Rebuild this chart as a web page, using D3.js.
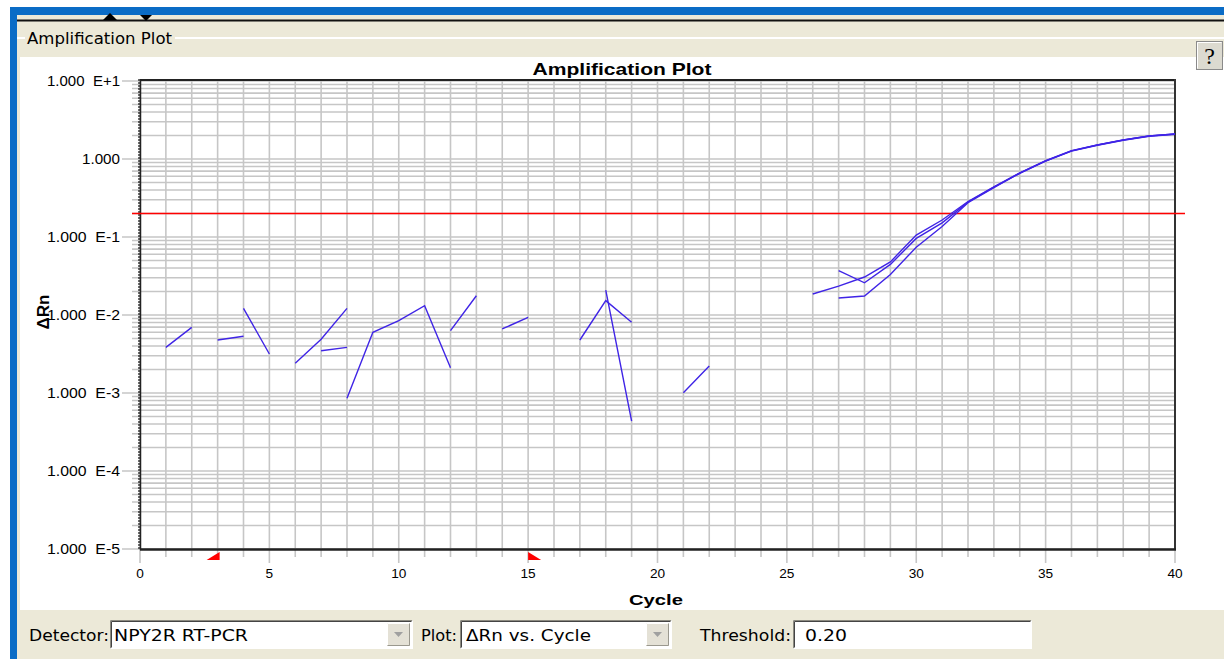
<!DOCTYPE html>
<html>
<head>
<meta charset="utf-8">
<script src="https://cdn.jsdelivr.net/npm/d3@7/dist/d3.min.js"></script>
<style>
html,body{margin:0;padding:0;background:#fff;overflow:hidden;}
svg{display:block;}
text{font-family:"Liberation Sans",Arial,sans-serif;fill:#000;}
.ui{font-family:"DejaVu Sans",Tahoma,sans-serif;}
</style>
</head>
<body>
<svg id="chart" width="1224" height="659"></svg>
<script>
// ---------------- data ----------------
const cycles = d3.range(1, 41); // 1..40
const wellA = [0.00385, 0.00695, null, 0.01217, 0.00316, null, 0.00348, 0.00385, null, null,
               null, 0.0063, 0.01767, null, null, null, 0.00478, 0.01527, 0.00806, null,
               0.00101, 0.00222, null, null, null, 0.0186, 0.0235, 0.0307, 0.048, 0.106,
               0.165, 0.285, 0.44, 0.665, 0.945, 1.27, 1.51, 1.75, 1.97, 2.09];
const wellB = [null, null, 0.00478, 0.00533, null, 0.0024, 0.00488, 0.01217, null, null,
               null, null, null, 0.00662, 0.00934, null, null, 0.0209, 0.000437, null,
               null, null, null, null, null, null, 0.037, 0.0259, 0.0445, 0.096,
               0.152, 0.28, 0.435, 0.655, 0.94, 1.26, 1.50, 1.74, 1.96, 2.08];
const wellC = [null, null, null, null, null, null, null, 0.000855, 0.006, 0.00845,
               0.01316, 0.00211, null, null, null, null, null, null, null, null,
               null, null, null, null, null, null, 0.0165, 0.0175, 0.033, 0.074,
               0.136, 0.275, 0.43, 0.66, 0.95, 1.28, 1.52, 1.76, 1.98, 2.10];
const threshold = 0.20;
const baselineStart = 3, baselineEnd = 15;
const xTickValues = [0, 5, 10, 15, 20, 25, 30, 35, 40];
const yTickValues = [1e-5, 1e-4, 1e-3, 1e-2, 1e-1, 1, 10];
const yTickLabels = ["1.000\u00a0\u00a0E-5", "1.000\u00a0\u00a0E-4", "1.000\u00a0\u00a0E-3",
                     "1.000\u00a0\u00a0E-2", "1.000\u00a0\u00a0E-1", "1.000", "1.000\u00a0\u00a0E+1"];

// ---------------- setup ----------------
const W = 1224, H = 659;
const svg = d3.select("#chart");
function fit(sel, w) { sel.attr("textLength", w).attr("lengthAdjust", "spacingAndGlyphs"); return sel; }

// window chrome
svg.append("rect").attr("width", W).attr("height", H).attr("fill", "#fff");
svg.append("rect").attr("x", 10).attr("y", 7).attr("width", W - 10).attr("height", H - 7).attr("fill", "#0a6cc6");
svg.append("rect").attr("x", 17).attr("y", 15).attr("width", W - 17).attr("height", H - 15).attr("fill", "#ece9d8");
svg.append("rect").attr("x", 17).attr("y", 19.5).attr("width", W - 17).attr("height", 2).attr("fill", "#111");
svg.append("path").attr("d", "M103,20 L117,20 L110,13 Z").attr("fill", "#000");
svg.append("path").attr("d", "M140,15 L152,15 L146,21 Z").attr("fill", "#000");
// group box etched line
svg.append("rect").attr("x", 17).attr("y", 37).attr("width", W - 17).attr("height", 2).attr("fill", "#fff");
svg.append("rect").attr("x", 25).attr("y", 30).attr("width", 150).attr("height", 14).attr("fill", "#ece9d8");
fit(svg.append("text").attr("class", "ui").attr("x", 27).attr("y", 44).attr("font-size", 15)
   .text("Amplification Plot"), 145);
// white plot panel
svg.append("rect").attr("x", 20).attr("y", 57).attr("width", W - 20).attr("height", 553).attr("fill", "#fff");
// help button
svg.append("rect").attr("x", 1196.5).attr("y", 41.5).attr("width", 26).attr("height", 28)
   .attr("fill", "#dcdad0").attr("stroke", "#8a8a8a");
svg.append("path").attr("d", "M1197.5,68.5 V42.5 H1221.5").attr("fill", "none").attr("stroke", "#fff");
svg.append("text").attr("x", 1209.5).attr("y", 64).attr("text-anchor", "middle")
   .attr("font-size", 24).style("font-family", "'Liberation Serif','DejaVu Serif',serif").attr("fill", "#444").text("?");

// ---------------- scales ----------------
const x = d3.scaleLinear().domain([0, 40]).range([140, 1175]);
const y = d3.scaleLog().domain([1e-5, 10]).range([549, 81]);

// grid (vertical) with ticks below axis
const g = svg.append("g");
g.selectAll("line.vg").data(x.ticks(40)).join("line")
  .attr("x1", d => x(d)).attr("x2", d => x(d))
  .attr("y1", y(10)).attr("y2", d => y(1e-5) + (d % 5 === 0 ? 14 : 8))
  .attr("stroke", "#c6c6c6").attr("stroke-width", 1.6);
// grid (horizontal) with ticks left of axis
g.selectAll("line.hg").data(y.ticks()).join("line")
  .attr("y1", d => y(d)).attr("y2", d => y(d))
  .attr("x1", d => x(0) - (Math.abs(Math.log10(d) - Math.round(Math.log10(d))) < 1e-9 ? 18 : 8))
  .attr("x2", x(40))
  .attr("stroke", "#c6c6c6").attr("stroke-width", 1.6);

// frame
svg.append("line").attr("x1", x(0)).attr("x2", x(40) + 1).attr("y1", y(10) - 1).attr("y2", y(10) - 1)
  .attr("stroke", "#222").attr("stroke-width", 2);
svg.append("line").attr("x1", x(40)).attr("x2", x(40)).attr("y1", y(10) - 2).attr("y2", y(1e-5))
  .attr("stroke", "#333").attr("stroke-width", 2);
svg.append("line").attr("x1", x(0)).attr("x2", x(40) + 1).attr("y1", y(1e-5) + 0.5).attr("y2", y(1e-5) + 0.5)
  .attr("stroke", "#222").attr("stroke-width", 2.5);
svg.append("line").attr("x1", x(0) + 0.5).attr("x2", x(0) + 0.5).attr("y1", y(10) - 2).attr("y2", y(1e-5) + 1)
  .attr("stroke", "#222").attr("stroke-width", 1.5);
svg.append("line").attr("x1", x(0) - 1).attr("x2", x(0) - 1).attr("y1", y(10) - 2).attr("y2", y(1e-5) + 1)
  .attr("stroke", "#111").attr("stroke-width", 1.2).attr("stroke-dasharray", "2,1");

// y labels
svg.selectAll("text.yl").data(yTickValues).join("text")
  .attr("x", 120).attr("y", d => y(d) + 5).attr("text-anchor", "end").attr("font-size", 14)
  .text((d, i) => yTickLabels[i])
  .each(function (d, i) { fit(d3.select(this), i === 5 ? 38 : 73); });

// x labels
svg.selectAll("text.xl").data(xTickValues).join("text")
  .attr("x", d => x(d)).attr("y", 578).attr("text-anchor", "middle").attr("font-size", 12)
  .text(d => d)
  .each(function (d) { fit(d3.select(this), String(d).length * 7.6); });

// titles
fit(svg.append("text").attr("x", 622).attr("y", 75).attr("text-anchor", "middle")
   .attr("font-size", 17).attr("font-weight", "bold").text("Amplification Plot"), 179);
fit(svg.append("text").attr("x", 656).attr("y", 605).attr("text-anchor", "middle")
   .attr("font-size", 15).attr("font-weight", "bold").text("Cycle"), 54);
fit(svg.append("text").attr("transform", "translate(49,312) rotate(-90)").attr("text-anchor", "middle")
   .attr("font-size", 16).attr("font-weight", "bold").text("ΔRn"), 35);

// threshold
svg.append("line").attr("x1", 132).attr("x2", 1185).attr("y1", y(threshold)).attr("y2", y(threshold))
  .attr("stroke", "#ff0000").attr("stroke-width", 1.6);

// baseline markers
const by = y(1e-5);
svg.append("path").attr("fill", "#ff0000")
  .attr("d", `M${x(baselineStart) - 11},${by + 11} L${x(baselineStart) + 2},${by + 11} L${x(baselineStart) + 2},${by + 3} Z`);
svg.append("path").attr("fill", "#ff0000")
  .attr("d", `M${x(baselineEnd)},${by + 3} L${x(baselineEnd)},${by + 11} L${x(baselineEnd) + 13},${by + 11} Z`);

// data lines
const line = d3.line().defined(d => d.v != null).x(d => x(d.c)).y(d => y(d.v));
[wellA, wellB, wellC].forEach(arr => {
  const pts = cycles.map((c, i) => ({ c, v: arr[i] }));
  svg.append("path").datum(pts).attr("d", line).attr("fill", "none")
    .attr("stroke", "#3f24e6").attr("stroke-width", 1.4);
});

// ---------------- bottom controls ----------------
function combo(x0, x1, label, btn) {
  svg.append("rect").attr("x", x0).attr("y", 620).attr("width", x1 - x0).attr("height", 29).attr("fill", "#fff");
  svg.append("path").attr("d", `M${x0 + 0.5},648.5 V620.5 H${x1 - 0.5}`).attr("fill", "none").attr("stroke", "#8c8a80");
  svg.append("path").attr("d", `M${x0 + 1.5},647.5 V621.5 H${x1 - 1.5}`).attr("fill", "none").attr("stroke", "#444");
  svg.append("path").attr("d", `M${x0 + 0.5},648.5 H${x1 - 0.5} V620.5`).attr("fill", "none").attr("stroke", "#fff");
  if (btn) {
    const bx = x1 - 26;
    svg.append("rect").attr("x", bx).attr("y", 623).attr("width", 23).attr("height", 23).attr("fill", "#e4e1d6");
    svg.append("path").attr("d", `M${bx + 0.5},645.5 V623.5 H${bx + 22.5}`).attr("fill", "none").attr("stroke", "#fff");
    svg.append("path").attr("d", `M${bx + 0.5},645.5 H${bx + 22.5} V623.5`).attr("fill", "none").attr("stroke", "#9a988e");
    svg.append("path").attr("d", `M${bx + 7},632 L${bx + 16},632 L${bx + 11.5},637 Z`).attr("fill", "#a0a0a0");
  }
}
combo(110, 413, "", true);
combo(460, 672, "", true);
combo(793, 1032, "", false);
fit(svg.append("text").attr("class", "ui").attr("x", 29).attr("y", 641).attr("font-size", 15).text("Detector:"), 80);
fit(svg.append("text").attr("class", "ui").attr("x", 114).attr("y", 641).attr("font-size", 15).text("NPY2R RT-PCR"), 134);
fit(svg.append("text").attr("class", "ui").attr("x", 421).attr("y", 641).attr("font-size", 15).text("Plot:"), 36);
fit(svg.append("text").attr("class", "ui").attr("x", 466).attr("y", 641).attr("font-size", 15).text("ΔRn vs. Cycle"), 125);
fit(svg.append("text").attr("class", "ui").attr("x", 700).attr("y", 641).attr("font-size", 15).text("Threshold:"), 91);
fit(svg.append("text").attr("class", "ui").attr("x", 805).attr("y", 641).attr("font-size", 15).text("0.20"), 42);
</script>
</body>
</html>
